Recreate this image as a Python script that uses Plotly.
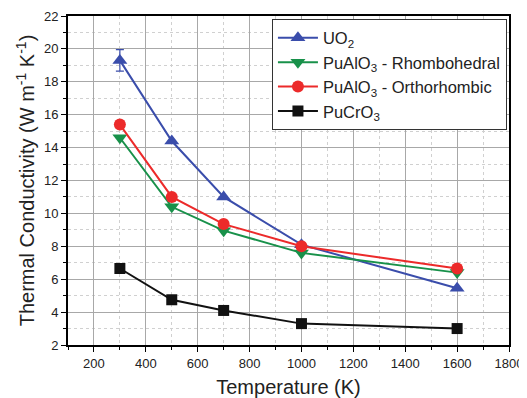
import plotly.graph_objects as go

temps = [300, 500, 700, 1000, 1600]
uo2 = [19.3, 14.4, 11.0, 8.1, 5.45]
uo2_err = [0.65, 0, 0, 0, 0]
rhombo = [14.6, 10.4, 8.95, 7.6, 6.4]
ortho = [15.4, 11.0, 9.35, 8.0, 6.65]
pucro3 = [6.65, 4.75, 4.1, 3.3, 3.0]

blue = "#3a4dab"
green = "#18914a"
red = "#ec2a2a"
black = "#111111"

fig = go.Figure()
fig.add_trace(go.Scatter(x=temps, y=uo2, name="UO<sub>2</sub>", mode="lines+markers",
                         line=dict(color=blue, width=2),
                         marker=dict(symbol="triangle-up", size=13, color=blue),
                         error_y=dict(type="data", array=uo2_err, visible=True, color=blue, thickness=1.2, width=4)))
fig.add_trace(go.Scatter(x=temps, y=rhombo, name="PuAlO<sub>3</sub> - Rhombohedral", mode="lines+markers",
                         line=dict(color=green, width=2),
                         marker=dict(symbol="triangle-down", size=13, color=green)))
fig.add_trace(go.Scatter(x=temps, y=ortho, name="PuAlO<sub>3</sub> - Orthorhombic", mode="lines+markers",
                         line=dict(color=red, width=2),
                         marker=dict(symbol="circle", size=12, color=red)))
fig.add_trace(go.Scatter(x=temps, y=pucro3, name="PuCrO<sub>3</sub>", mode="lines+markers",
                         line=dict(color=black, width=2),
                         marker=dict(symbol="square", size=11, color=black)))

font_fam = "Liberation Sans, Arial"
axis_common = dict(showline=True, linecolor="black", linewidth=1.8, mirror=True,
                   ticks="outside", ticklen=5, tickwidth=1.2, tickcolor="black",
                   showgrid=True, gridcolor="#a8a8a8", gridwidth=1, zeroline=False,
                   automargin=False,
                   tickfont=dict(family=font_fam, size=13, color="#222"))

fig.update_xaxes(range=[100, 1800], dtick=200, tick0=0,
                 minor=dict(dtick=100, tick0=0, ticks="outside", ticklen=3, tickcolor="black",
                            showgrid=True, gridcolor="#d0d0d0", griddash="dot"),
                 title=dict(text="Temperature (K)", font=dict(family=font_fam, size=20, color="#222"), standoff=12),
                 **axis_common)
fig.update_yaxes(range=[2, 22], dtick=2, tick0=0,
                 minor=dict(dtick=1, tick0=0, ticks="outside", ticklen=3, tickcolor="black",
                            showgrid=True, gridcolor="#d0d0d0", griddash="dot"),
                 title=dict(text="Thermal Conductivity (W m<sup>-1</sup> K<sup>-1</sup>)", font=dict(family=font_fam, size=20, color="#222"), standoff=4),
                 **axis_common)

fig.update_layout(width=519, height=390, margin=dict(l=60, r=18, t=8, b=53, autoexpand=False),
                  paper_bgcolor="white", plot_bgcolor="white",
                  font=dict(family=font_fam, color="#222"),
                  legend=dict(x=0.462, y=0.99, xanchor="left", yanchor="top",
                              bgcolor="white", bordercolor="#333", borderwidth=1.2,
                              font=dict(size=16.5, family=font_fam, color="#222"),
                              tracegroupgap=0, itemwidth=40))

fig.write_html("out.html")
